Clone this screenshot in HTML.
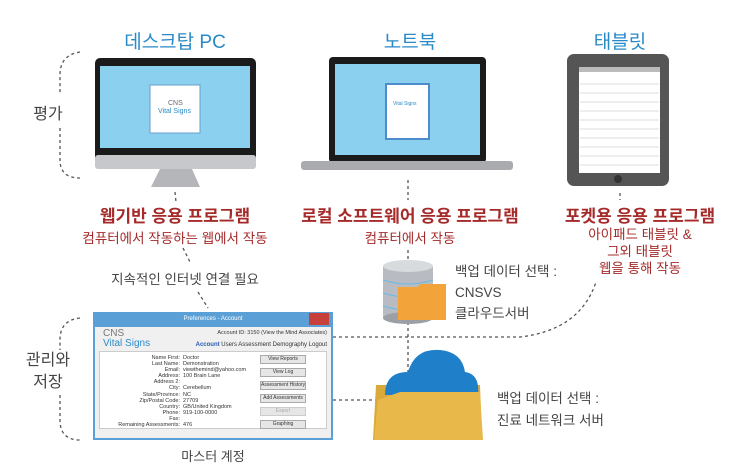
<!DOCTYPE html>
<html><head><meta charset="utf-8"><style>
body{margin:0;width:741px;height:470px;background:#fff;position:relative;overflow:hidden;font-family:"Liberation Sans","Noto Sans CJK KR",sans-serif}
.t{position:absolute;white-space:nowrap;text-align:center}
.blue{color:#2a8ac8;font-size:19px}
.red{color:#a52a2a;font-size:17px;font-weight:bold}
.reds{color:#a52a2a;font-size:13.5px}
.g{color:#444;font-size:14px}
.win{position:absolute;left:93px;top:312px;width:240px;height:128px;background:#5aa0d6;font-size:5.5px;color:#333}
.b{border:1px solid #aaa;background:#e6e6e6;margin-bottom:4px;height:7px;line-height:7px;font-size:5px;white-space:nowrap;overflow:hidden}
</style></head><body>
<svg width="741" height="470" style="position:absolute;left:0;top:0">
<g fill="none" stroke="#555" stroke-width="1.3" stroke-dasharray="3,3">
<path d="M80 52 Q60 55 60 75 L60 95"/><path d="M60 128 L60 160 Q60 178 80 178"/>
<path d="M80 318 Q60 320 60 340 L60 350"/><path d="M60 395 L60 420 Q60 440 80 440"/>
<path d="M175 192 L176 202"/><path d="M183 248 L190 262"/><path d="M198 292 L208 308"/>
<path d="M408 180 L408 200"/><path d="M408 250 L408 262"/><path d="M408 322 L408 372"/>
<path d="M620 193 L620 200"/>
<path d="M333 337 L520 337 Q580 330 596 282"/><path d="M333 400 L376 400"/>
</g>
<!-- desktop -->
<rect x="95" y="58" width="161" height="111" rx="5" fill="#1b1b1b"/>
<rect x="100" y="66" width="150" height="82" fill="#8bd0ee"/>
<rect x="95" y="155" width="161" height="14" rx="3" fill="#c7c8cb"/>
<path d="M160 169 L192 169 L200 187 L151 187 Z" fill="#b5b6b9"/>
<rect x="150" y="85" width="50" height="48" fill="#fff" stroke="#6a9ccc"/>
<text x="168" y="105" font-size="7" fill="#667" font-family="Liberation Sans">CNS</text>
<text x="158" y="113" font-size="7" fill="#2a8ac8" font-family="Liberation Sans">Vital Signs</text>
<!-- laptop -->
<rect x="329" y="57" width="157" height="106" rx="4" fill="#1b1b1b"/>
<rect x="335" y="64" width="145" height="91" fill="#8bd0ee"/>
<rect x="301" y="161" width="212" height="9" rx="3" fill="#a9abae"/>
<rect x="386" y="84" width="43" height="55" fill="#fff" stroke="#4a8ccc" stroke-width="2"/>
<text x="393" y="105" font-size="5" fill="#2a8ac8" font-family="Liberation Sans">Vital Signs</text>
<!-- tablet -->
<rect x="567" y="54" width="102" height="132" rx="7" fill="#555"/>
<rect x="579" y="67" width="81" height="106" fill="#fff"/>
<rect x="579" y="67" width="81" height="5" fill="#bbb"/>
<g stroke="#ddd"><line x1="580" y1="84" x2="659" y2="84"/><line x1="580" y1="93" x2="659" y2="93"/><line x1="580" y1="102" x2="659" y2="102"/><line x1="580" y1="111" x2="659" y2="111"/><line x1="580" y1="120" x2="659" y2="120"/><line x1="580" y1="129" x2="659" y2="129"/><line x1="580" y1="138" x2="659" y2="138"/><line x1="580" y1="147" x2="659" y2="147"/><line x1="580" y1="156" x2="659" y2="156"/><line x1="580" y1="165" x2="659" y2="165"/></g>
<circle cx="618" cy="179" r="4" fill="#333"/>
<!-- database -->
<rect x="383" y="266" width="50" height="52" fill="#b8bcc2"/>
<ellipse cx="408" cy="318" rx="25" ry="6" fill="#9aa0a6"/>
<ellipse cx="408" cy="266" rx="25" ry="6" fill="#d8dbde"/>
<g stroke="#6bb8e8" fill="none"><path d="M383 280 Q408 288 433 280"/><path d="M383 293 Q408 301 433 293"/><path d="M383 306 Q408 314 433 306"/></g>
<path d="M398 287 L418 287 L420 284 L446 284 L446 320 L398 320 Z" fill="#f2a43a"/>
<!-- cloud folder -->
<path d="M376 385 L480 385 L482 440 L373 440 Z" fill="#d9a93a"/>
<path d="M385 395 Q385 372 408 372 Q415 348 440 350 Q462 352 465 372 Q480 374 478 395 Z" fill="#1f7fc8"/>
<path d="M378 400 L400 392 L480 392 L483 440 L374 440 Z" fill="#e9b84a"/>
</svg>
<div class="t blue" style="left:95px;top:27px;width:160px">데스크탑 PC</div>
<div class="t blue" style="left:350px;top:27px;width:120px">노트북</div>
<div class="t blue" style="left:560px;top:27px;width:120px">태블릿</div>
<div class="t g" style="left:28px;top:100px;width:40px;font-size:16px">평가</div>
<div class="t g" style="left:18px;top:350px;width:60px;font-size:16px;line-height:22px">관리와<br>저장</div>
<div class="t red" style="left:75px;top:202px;width:200px">웹기반 응용 프로그램</div>
<div class="t reds" style="left:65px;top:227px;width:220px">컴퓨터에서 작동하는 웹에서 작동</div>
<div class="t red" style="left:290px;top:202px;width:240px">로컬 소프트웨어 응용 프로그램</div>
<div class="t reds" style="left:340px;top:227px;width:140px">컴퓨터에서 작동</div>
<div class="t red" style="left:550px;top:202px;width:180px">포켓용 응용 프로그램</div>
<div class="t reds" style="left:560px;top:226px;width:160px;line-height:17px">아이패드 태블릿 &amp;<br>그외 태블릿<br>웹을 통해 작동</div>
<div class="t g" style="left:90px;top:268px;width:190px;font-size:13.5px">지속적인 인터넷 연결 필요</div>
<div class="t g" style="left:455px;top:261px;text-align:left;line-height:21px;font-size:13.5px">백업 데이터 선택 :<br>CNSVS<br>클라우드서버</div>
<div class="t g" style="left:497px;top:388px;text-align:left;line-height:22px;font-size:13.5px">백업 데이터 선택 :<br>진료 네트워크 서버</div>
<div class="t g" style="left:163px;top:446px;width:100px;font-size:13px">마스터 계정</div>
<div class="win">
<div style="height:15px;color:#fff;text-align:center;line-height:15px;font-size:6px">Preferences - Account<span style="position:absolute;right:4px;top:1px;width:20px;height:12px;background:#c8403c"></span></div>
<div style="position:absolute;left:2px;top:15px;right:2px;bottom:2px;background:#f0f0f0">
<div style="position:absolute;left:8px;top:2px;font-size:10px;color:#777;line-height:10px">CNS<br><span style="color:#2a8ac8">Vital Signs</span></div>
<div style="position:absolute;right:4px;top:3px">Account ID: 3150 (View the Mind Associates)</div>
<div style="position:absolute;right:4px;top:15px;font-size:6px"><b style="color:#2a5ab0">Account</b> Users Assessment Demography Logout</div>
<div style="position:absolute;left:4px;right:4px;top:24px;bottom:9px;background:#fff;border:1px solid #ccc">
<div style="position:absolute;left:10px;top:3px;width:70px;text-align:right;line-height:6.1px">Name First:<br>Last Name:<br>Email:<br>Address:<br>Address 2:<br>City:<br>State/Province:<br>Zip/Postal Code:<br>Country:<br>Phone:<br>Fax:<br>Remaining Assessments:</div>
<div style="position:absolute;left:83px;top:3px;line-height:6.1px">Doctor<br>Demonstration<br>viewthemind@yahoo.com<br>100 Brain Lane<br><br>Cerebellum<br>NC<br>27709<br>GB/United Kingdom<br>919-100-0000<br><br>476</div>
<div style="position:absolute;left:160px;top:3px;width:46px;text-align:center">
<div class="b">View Reports</div><div class="b">View Log</div><div class="b">Assessment History</div><div class="b">Add Assessments</div><div class="b" style="color:#aaa;border-color:#ccc">Export</div><div class="b">Graphing</div></div>
</div></div></div>
</body></html>
